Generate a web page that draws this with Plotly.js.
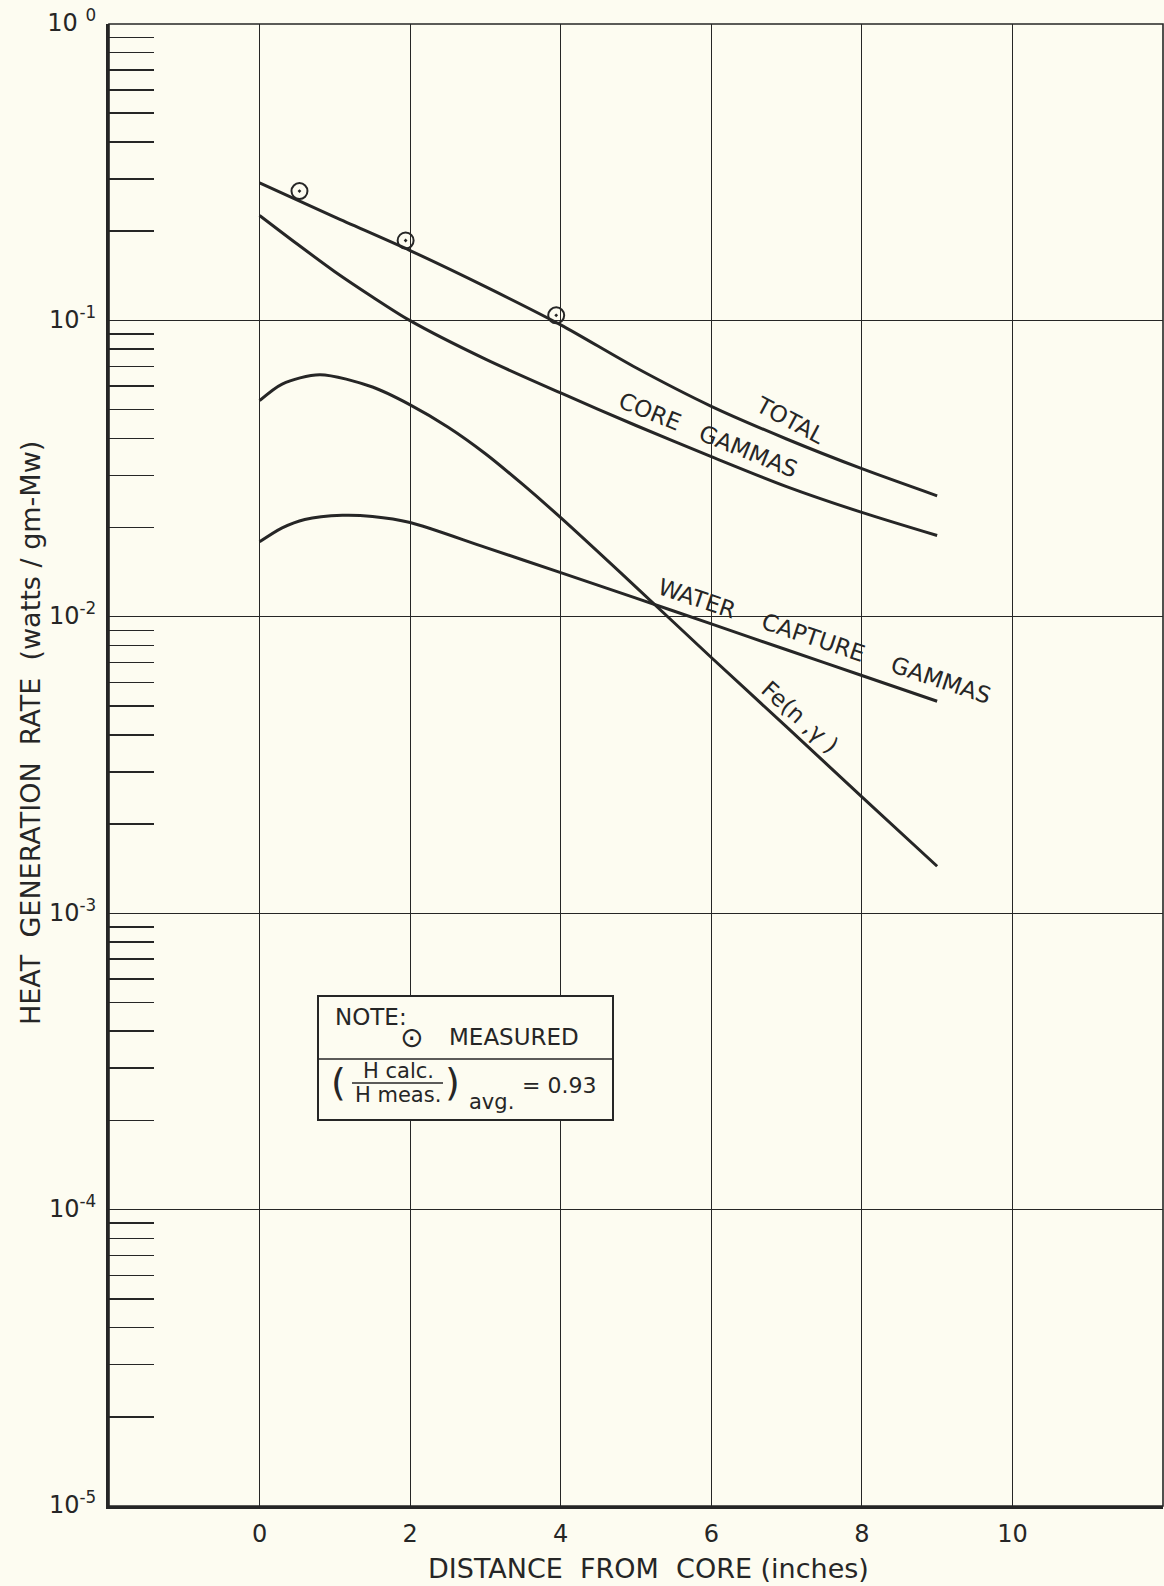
<!DOCTYPE html>
<html>
<head>
<meta charset="utf-8">
<script src="https://cdn.plot.ly/plotly-3.0.1.min.js"></script>
<style>html,body{margin:0;padding:0;background:#fdfcf1;}</style>
</head>
<body>
<div id="chart" style="width:1164px;height:1586px;"></div>
<script>
// ---- data ----
const totalX = [0, 1, 2, 3, 4, 5, 6, 7, 8, 9];
const totalY = [0.291, 0.223, 0.172, 0.130, 0.0966, 0.0692, 0.0513, 0.0398, 0.0316, 0.0256];

const coreX = [0, 0.5, 1, 1.5, 2, 3, 4, 5, 6, 7, 8, 9];
const coreY = [0.226, 0.181, 0.146, 0.120, 0.0998, 0.0740, 0.0569, 0.0442, 0.0347, 0.0275, 0.0225, 0.0188];

const feX = [0, 0.3, 0.8, 1.5, 2, 2.5, 3, 3.5, 4, 5, 6, 7, 8, 9];
const feY = [0.0536, 0.0610, 0.0656, 0.0596, 0.0519, 0.0437, 0.0355, 0.0279, 0.0216, 0.0126, 0.00729, 0.00425, 0.00247, 0.00144];

const waterX = [0, 0.3, 0.6, 1.1, 1.5, 2, 3, 4, 5, 6, 7, 8, 9];
const waterY = [0.0179, 0.01995, 0.0213, 0.0220, 0.0218, 0.0208, 0.01714, 0.0141, 0.01156, 0.00946, 0.00774, 0.00634, 0.00519];

const measuredX = [0.53, 1.94, 3.94];
const measuredY = [0.273, 0.186, 0.104];

const xTickVals = [0, 2, 4, 6, 8, 10];
const xTickText = ['0', '2', '4', '6', '8', '10'];
const yDecades = [-5, -4, -3, -2, -1, 0];
const yTickText = ['10<sup>-5</sup>', '10<sup>-4</sup>', '10<sup>-3</sup>', '10<sup>-2</sup>', '10<sup>-1</sup>', '10 <sup>0</sup>'];
const minorMantissas = [2, 3, 4, 5, 6, 7, 8, 9];

const curveLabels = ['TOTAL', 'CORE&nbsp;&nbsp;&nbsp;GAMMAS', 'WATER&nbsp;&nbsp;&nbsp;&nbsp;CAPTURE&nbsp;&nbsp;&nbsp;&nbsp;GAMMAS', 'Fe(n ,γ )'];
const xTitle = 'DISTANCE&nbsp;&nbsp;FROM&nbsp;&nbsp;CORE (inches)';
const yTitle = 'HEAT&nbsp;&nbsp;GENERATION&nbsp;&nbsp;RATE&nbsp;&nbsp;(watts / gm-Mw)';

// ---- styling ----
const ink = '#262626';
const bg = '#fdfcf1';
const FONT = 'DejaVu Sans';

const yTickVals = yDecades.map(e => Math.pow(10, e));
const minorVals = [];
yDecades.slice(0, -1).forEach(e => minorMantissas.forEach(m => minorVals.push(m * Math.pow(10, e))));

const lineStyle = {color: ink, width: 3, shape: 'spline', smoothing: 0.8};
const traces = [
  {x: totalX, y: totalY, mode: 'lines', line: lineStyle, name: 'TOTAL'},
  {x: coreX, y: coreY, mode: 'lines', line: lineStyle, name: 'CORE GAMMAS'},
  {x: feX, y: feY, mode: 'lines', line: lineStyle, name: 'Fe(n,γ)'},
  {x: waterX, y: waterY, mode: 'lines', line: lineStyle, name: 'WATER CAPTURE GAMMAS'},
  {x: measuredX, y: measuredY, mode: 'markers', name: 'MEASURED',
   marker: {symbol: 'circle-open-dot', size: 16, color: ink, line: {width: 2, color: ink}}}
];

// paper helpers for fixed-plot-area text placement
const PX0 = 109, PW = 1054, PYB = 1506, PH = 1482;
const xp = px => (px - PX0) / PW;
const yp = py => (PYB - py) / PH;

function ann(text, x, y, size, opts) {
  return Object.assign({text: text, x: xp(x), y: yp(y), xref: 'paper', yref: 'paper',
    showarrow: false, xanchor: 'center', yanchor: 'middle',
    font: {family: FONT, size: size, color: ink}}, opts || {});
}

const annotations = [
  ann(curveLabels[0], 790, 420, 23, {textangle: 28}),
  ann(curveLabels[1], 708, 435, 23, {textangle: 22}),
  ann(curveLabels[2], 824, 641, 23, {textangle: 18.5}),
  ann(curveLabels[3], 800, 717, 23, {textangle: 42}),
  // axis titles
  ann(xTitle, 648, 1568, 27),
  ann(yTitle, 30, 733, 27, {textangle: -90}),
  // note box
  ann('NOTE:', 333, 1017, 23, {xanchor: 'left'}),
  ann('⊙', 411, 1037, 28),
  ann('MEASURED', 447, 1037, 23, {xanchor: 'left'}),
  ann('(', 338, 1082, 38),
  ann('H calc.', 398, 1071, 21),
  ann('H meas.', 398, 1095, 21),
  ann(')', 452, 1082, 38),
  ann('avg.', 467, 1102, 21, {xanchor: 'left'}),
  ann('= 0.93', 520, 1085, 22, {xanchor: 'left'})
];

const shapes = [
  {type: 'rect', xref: 'paper', yref: 'paper', x0: 0, x1: 1, y0: 0, y1: 1, line: {color: ink, width: 1.6}},
  {type: 'rect', xref: 'paper', yref: 'paper', x0: xp(318), x1: xp(613), y0: yp(1120), y1: yp(996),
   fillcolor: bg, line: {color: ink, width: 2}, layer: 'above'},
  {type: 'line', xref: 'paper', yref: 'paper', x0: xp(318), x1: xp(613), y0: yp(1059), y1: yp(1059),
   line: {color: ink, width: 1.6}},
  {type: 'line', xref: 'paper', yref: 'paper', x0: xp(352), x1: xp(443), y0: yp(1083), y1: yp(1083),
   line: {color: ink, width: 1.6}}
];

const layout = {
  width: 1164, height: 1586,
  margin: {l: 109, r: 1, t: 24, b: 80},
  paper_bgcolor: bg, plot_bgcolor: bg,
  font: {family: FONT, color: ink},
  showlegend: false,
  xaxis: {
    range: [-2, 12], tickmode: 'array', tickvals: xTickVals, ticktext: xTickText,
    showgrid: true, gridcolor: ink, gridwidth: 1.2, zeroline: false,
    showline: true, linecolor: ink, linewidth: 3, ticks: '',
    tickfont: {size: 24, family: FONT, color: ink}, ticklabelstandoff: 4,
    automargin: false
  },
  yaxis: {
    type: 'log', range: [-5, 0], tickmode: 'array', tickvals: yTickVals, ticktext: yTickText,
    showgrid: true, gridcolor: ink, gridwidth: 1.2, zeroline: false,
    showline: true, linecolor: ink, linewidth: 3, ticks: '',
    tickfont: {size: 24, family: FONT, color: ink}, ticklabelshift: -1, ticklabelstandoff: 5,
    minor: {tickmode: 'array', tickvals: minorVals, ticks: 'inside', ticklen: 45, tickwidth: 1.5, tickcolor: ink, showgrid: false},
    automargin: false
  },
  shapes: shapes,
  annotations: annotations
};

Plotly.newPlot('chart', traces, layout, {staticPlot: true, displayModeBar: false});
</script>
</body>
</html>
